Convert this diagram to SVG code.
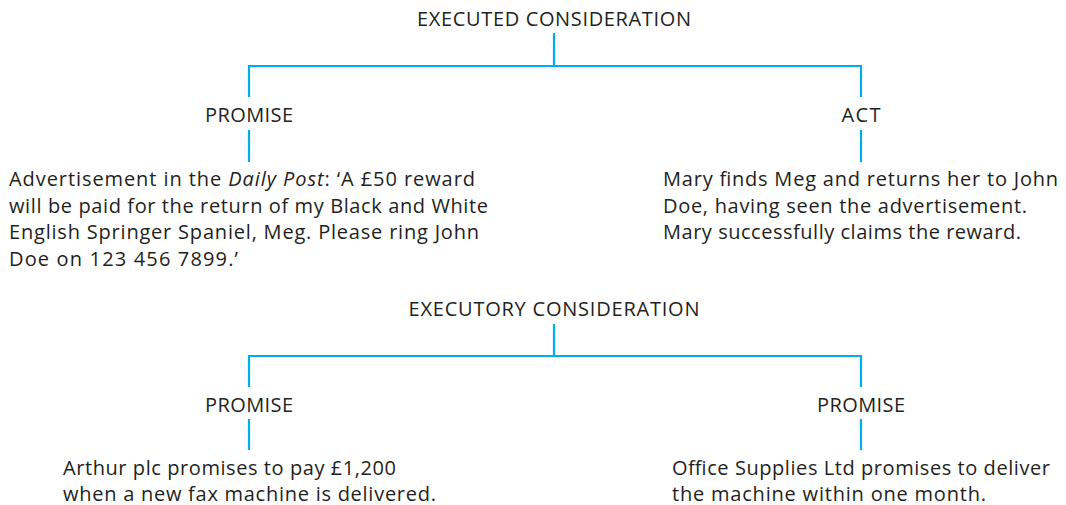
<svg xmlns="http://www.w3.org/2000/svg" width="1066" height="505" viewBox="0 0 1066 505">
<style>
text{font-family:"Open Sans","Noto Sans","Liberation Sans",sans-serif;font-size:20px;fill:#231F20}
.c{text-anchor:middle}
.con{fill:none;stroke:#00AEEF;stroke-width:2.2;stroke-linecap:butt;stroke-linejoin:miter}
</style>
<rect width="1066" height="505" fill="#ffffff"/>
<g id="connectors">
<path class="con" d="M554 33V66M249 97V66H861V97"/>
<path class="con" d="M249 130V162M861 130V162"/>
<path class="con" d="M554 324V356M249 387V356H861V387"/>
<path class="con" d="M249 419V450M861 419V450"/>
</g>
<g id="executed">
<text class="c" x="554" y="26" textLength="274" lengthAdjust="spacing">EXECUTED CONSIDERATION</text>
</g>
<g id="promise1">
<text class="c" x="249" y="122" textLength="88" lengthAdjust="spacing">PROMISE</text>
</g>
<g id="act">
<text class="c" x="861" y="122" textLength="39" lengthAdjust="spacing">ACT</text>
</g>
<g id="advert">
<text x="9" y="186" textLength="466" lengthAdjust="spacing">Advertisement in the <tspan font-style="italic">Daily Post</tspan>: ‘A £50 reward</text>
<text x="9" y="212.5" textLength="479" lengthAdjust="spacing">will be paid for the return of my Black and White</text>
<text x="9" y="239" textLength="470" lengthAdjust="spacing">English Springer Spaniel, Meg. Please ring John</text>
<text x="9" y="265.5" textLength="229" lengthAdjust="spacing">Doe on 123 456 7899.’</text>
</g>
<g id="mary">
<text x="663" y="186" textLength="395" lengthAdjust="spacing">Mary finds Meg and returns her to John</text>
<text x="663" y="212.5" textLength="364" lengthAdjust="spacing">Doe, having seen the advertisement.</text>
<text x="663" y="239" textLength="358" lengthAdjust="spacing">Mary successfully claims the reward.</text>
</g>
<g id="executory">
<text class="c" x="554" y="316" textLength="291" lengthAdjust="spacing">EXECUTORY CONSIDERATION</text>
</g>
<g id="promise2">
<text class="c" x="249" y="412" textLength="88" lengthAdjust="spacing">PROMISE</text>
</g>
<g id="promise3">
<text class="c" x="861" y="412" textLength="88" lengthAdjust="spacing">PROMISE</text>
</g>
<g id="arthur">
<text x="63" y="475" textLength="333" lengthAdjust="spacing">Arthur plc promises to pay £1,200</text>
<text x="63" y="501" textLength="373" lengthAdjust="spacing">when a new fax machine is delivered.</text>
</g>
<g id="office">
<text x="672" y="475" textLength="378" lengthAdjust="spacing">Office Supplies Ltd promises to deliver</text>
<text x="672" y="501" textLength="314" lengthAdjust="spacing">the machine within one month.</text>
</g>
</svg>
